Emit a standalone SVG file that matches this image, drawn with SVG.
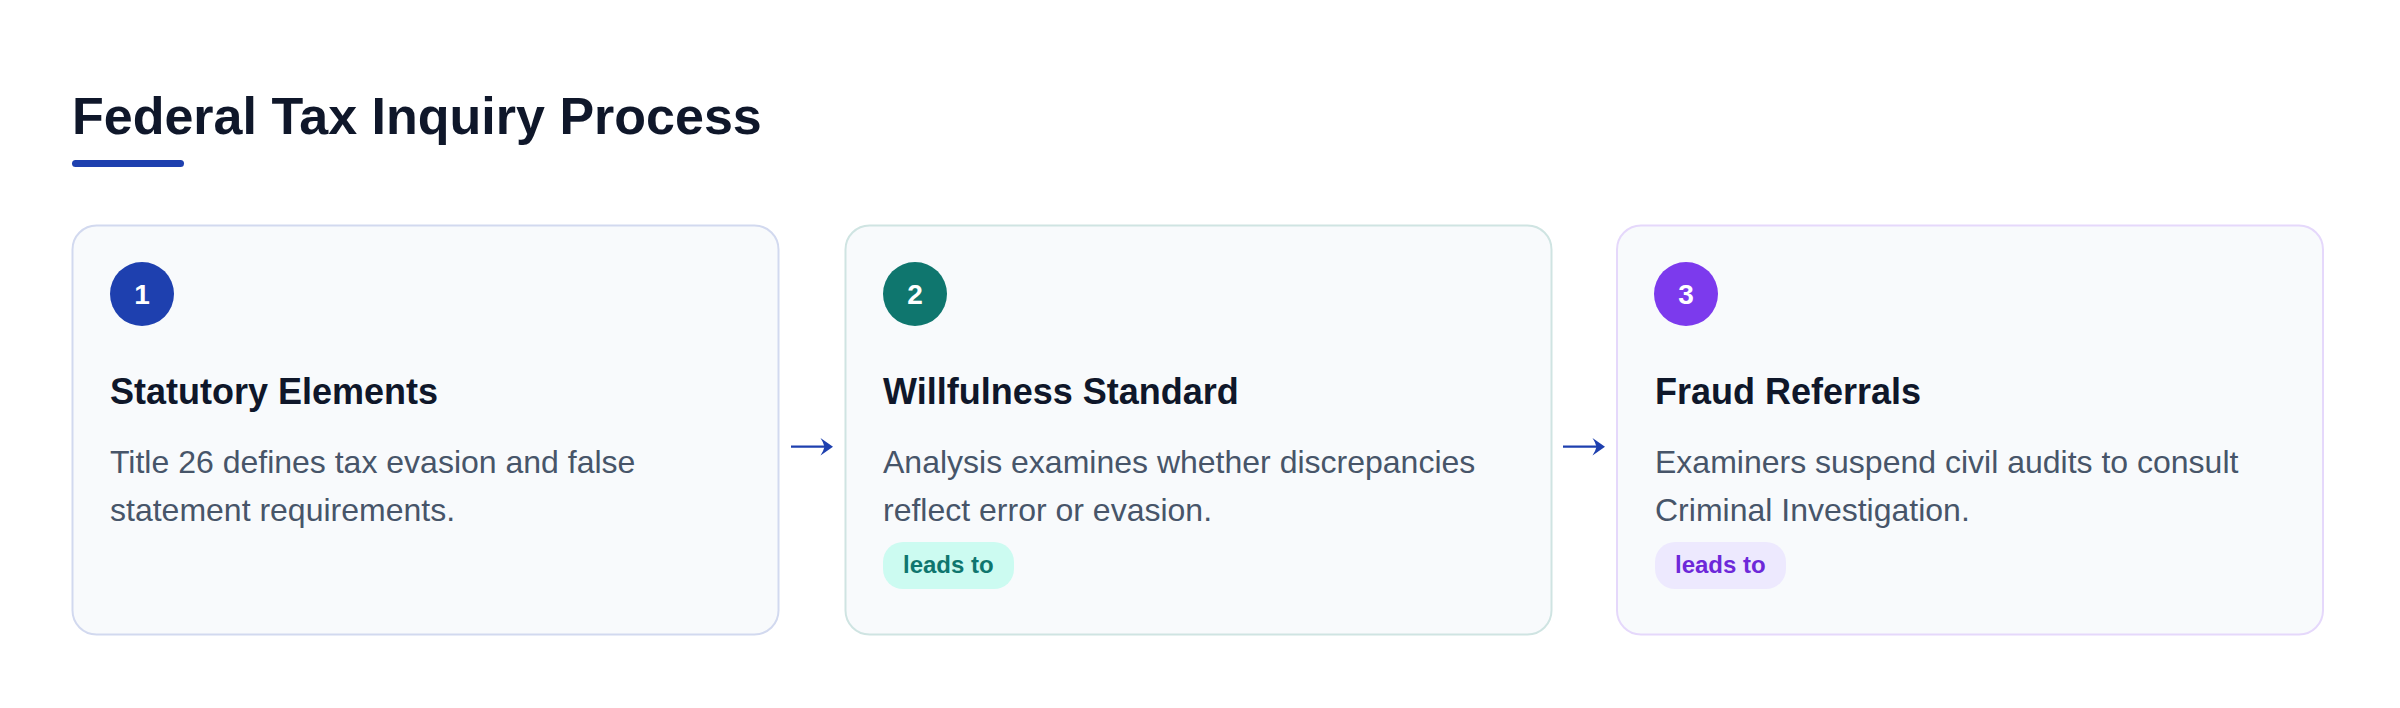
<svg xmlns="http://www.w3.org/2000/svg" width="2400" height="708" viewBox="0 0 2400 708">
  <style>
    .title { font-family: "Liberation Sans", Arial, sans-serif; font-weight: 700; font-size: 52px; fill: #0f172a; }
    .card { fill: #f8fafc; stroke-width: 2; }
    .num { font-family: "Liberation Sans", Arial, sans-serif; font-weight: 700; font-size: 28px; fill: #ffffff; text-anchor: middle; }
    .head { font-family: "Liberation Sans", Arial, sans-serif; font-weight: 700; font-size: 36px; fill: #0f172a; }
    .desc { font-family: "Liberation Sans", Arial, sans-serif; font-size: 32px; fill: #475569; }
    .pill { font-family: "Liberation Sans", Arial, sans-serif; font-weight: 700; font-size: 24px; }
    .conn { stroke: #1e40af; stroke-width: 2.2; fill: none; }
    .head-arrow { fill: #1e40af; }
  </style>
  <rect x="0" y="0" width="2400" height="708" fill="#ffffff"/>

  <g id="title">
    <text class="title" x="72" y="134">Federal Tax Inquiry Process</text>
    <rect x="72" y="160" width="112" height="7" rx="3.5" fill="#1e40af"/>
  </g>

  <g id="node-1">
    <rect class="card" x="72.5" y="225.5" width="706" height="409" rx="24" stroke="#d2d9ef"/>
    <circle cx="142" cy="294" r="32" fill="#1e40af"/>
    <text class="num" x="142" y="304">1</text>
    <text class="head" x="110" y="404">Statutory Elements</text>
    <text class="desc" x="110" y="473">Title 26 defines tax evasion and false</text>
    <text class="desc" x="110" y="521">statement requirements.</text>
  </g>

  <g id="node-2">
    <rect class="card" x="845.5" y="225.5" width="706" height="409" rx="24" stroke="#cfe4e2"/>
    <circle cx="915" cy="294" r="32" fill="#0f766e"/>
    <text class="num" x="915" y="304">2</text>
    <text class="head" x="883" y="404">Willfulness Standard</text>
    <text class="desc" x="883" y="473">Analysis examines whether discrepancies</text>
    <text class="desc" x="883" y="521">reflect error or evasion.</text>
    <rect x="883" y="542" width="131" height="47" rx="20" fill="#ccfbf1"/>
    <text class="pill" x="903" y="573" fill="#0f766e">leads to</text>
  </g>

  <g id="node-3">
    <rect class="card" x="1617" y="225.5" width="706" height="409" rx="24" stroke="#e5d8fb"/>
    <circle cx="1686" cy="294" r="32" fill="#7c3aed"/>
    <text class="num" x="1686" y="304">3</text>
    <text class="head" x="1655" y="404">Fraud Referrals</text>
    <text class="desc" x="1655" y="473">Examiners suspend civil audits to consult</text>
    <text class="desc" x="1655" y="521">Criminal Investigation.</text>
    <rect x="1655" y="542" width="131" height="47" rx="20" fill="#ede9fe"/>
    <text class="pill" x="1675" y="573" fill="#6d28d9">leads to</text>
  </g>

  <g id="connectors">
    <g id="edge-1-2">
      <line class="conn" x1="791" y1="446.7" x2="829" y2="446.7"/>
      <path class="head-arrow" d="M833,446.7 L820.5,438 Q823.5,442.5 824.5,446.7 Q823.5,451 820.5,455.4 Z"/>
    </g>
    <g id="edge-2-3">
      <line class="conn" x1="1563" y1="446.7" x2="1601" y2="446.7"/>
      <path class="head-arrow" d="M1605,446.7 L1592.5,438 Q1595.5,442.5 1596.5,446.7 Q1595.5,451 1592.5,455.4 Z"/>
    </g>
  </g>
</svg>
